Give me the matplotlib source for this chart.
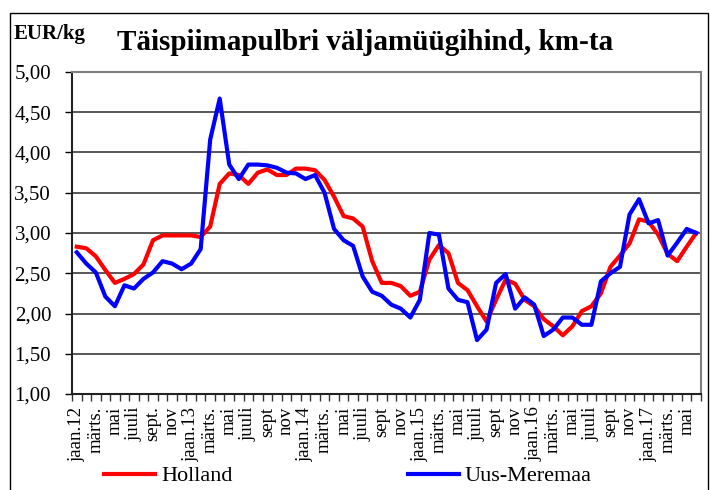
import matplotlib
matplotlib.use("Agg")
import matplotlib.pyplot as plt
from matplotlib.patches import Rectangle
from matplotlib.ticker import FixedLocator, FuncFormatter
from matplotlib.transforms import Bbox, TransformedBbox

# monthly prices, jan 2012 .. jun 2017
holland = [2.83, 2.81, 2.71, 2.54, 2.38, 2.43, 2.49, 2.61, 2.91, 2.97,
           2.97, 2.97, 2.97, 2.95, 3.08, 3.61, 3.74, 3.72, 3.61, 3.75,
           3.79, 3.72, 3.72, 3.80, 3.80, 3.78, 3.66, 3.45, 3.21, 3.18,
           3.08, 2.65, 2.38, 2.38, 2.34, 2.22, 2.27, 2.67, 2.85, 2.75,
           2.38, 2.29, 2.09, 1.90, 2.17, 2.42, 2.37, 2.17, 2.09, 1.93,
           1.84, 1.73, 1.84, 2.03, 2.09, 2.25, 2.58, 2.72, 2.87, 3.17,
           3.14, 2.98, 2.74, 2.65, 2.83, 3.00]
uus_meremaa = [2.76, 2.62, 2.51, 2.21, 2.09, 2.35, 2.31, 2.43, 2.51, 2.65,
               2.62, 2.55, 2.62, 2.80, 4.16, 4.67, 3.85, 3.67, 3.85, 3.85,
               3.84, 3.81, 3.75, 3.74, 3.67, 3.72, 3.50, 3.05, 2.91, 2.84,
               2.46, 2.27, 2.22, 2.11, 2.06, 1.95, 2.17, 3.00, 2.98, 2.31,
               2.17, 2.14, 1.67, 1.80, 2.38, 2.49, 2.06, 2.20, 2.11, 1.72,
               1.80, 1.95, 1.95, 1.86, 1.86, 2.40, 2.50, 2.58, 3.23, 3.42,
               3.12, 3.16, 2.72, 2.88, 3.05, 3.00]

month_labels = ["jaan.12", "märts.", "mai", "juuli", "sept.", "nov",
                "jaan.13", "märts.", "mai", "juuli", "sept", "nov",
                "jaan.14", "märts.", "mai", "juuli", "sept", "nov",
                "jaan.15", "märts.", "mai", "juuli", "sept", "nov",
                "jaan.16", "märts.", "mai", "juuli", "sept", "nov",
                "jaan.17", "märts.", "mai"]

plt.rcParams['font.family'] = ['Liberation Serif', 'DejaVu Serif']

W, H = 710, 490
fig = plt.figure(figsize=(W / 100, H / 100), dpi=100)
ax = fig.add_axes([72 / W, 1 - 394 / H, (701 - 72) / W, (394 - 72) / H])

x = list(range(len(holland)))
ax.plot(x, holland, color="#ff0000", lw=3, label="Holland", zorder=3)
ax.plot(x, uus_meremaa, color="#0000ff", lw=3, label="Uus-Meremaa", zorder=4)

ax.set_xlim(-0.5, len(holland) - 0.5)
ax.set_ylim(1, 5)
ax.set_yticks([1 + 0.5 * i for i in range(9)])
ax.yaxis.set_major_formatter(FuncFormatter(lambda v, p: f"{v:.2f}".replace(".", ",")))
ax.grid(axis="y", color="#4a4a4a", lw=1.3)
ax.set_axisbelow(True)

ax.set_xticks(x[::2])
ax.set_xticklabels(month_labels, rotation=90, fontsize=13.5, va="top")
ax.xaxis.set_minor_locator(FixedLocator([i - 0.5 for i in range(len(holland) + 1)]))
ax.tick_params(axis="x", which="major", length=0, pad=9)
ax.tick_params(axis="x", which="minor", length=5, width=1, color="#333333")
ax.tick_params(axis="y", length=5, width=1, labelsize=15, pad=10)

for s in ["top", "right"]:
    ax.spines[s].set_color("#808080")
    ax.spines[s].set_linewidth(1.5)
for s in ["left", "bottom"]:
    ax.spines[s].set_color("#222222")
    ax.spines[s].set_linewidth(1.5)

fig.text(14 / W, 1 - 34 / H, "EUR/kg", fontsize=15, fontweight="bold", va="center")
fig.text(365 / W, 1 - 43 / H, "Täispiimapulbri väljamüügihind, km-ta",
         fontsize=21, fontweight="bold", ha="center", va="center")

fig.legend(loc="center", bbox_to_anchor=(348 / W, 1 - 476 / H), ncol=2,
           frameon=False, fontsize=16, handlelength=2.3, handletextpad=0.25,
           columnspacing=7.9)

fig.patches.append(Rectangle((10 / W, -0.05), (708 - 10) / W, 1 - 13 / H + 0.05,
                             transform=fig.transFigure, fill=False,
                             edgecolor="black", lw=1))

# month labels are cut off above the legend in the original
clip = TransformedBbox(Bbox([[0, 28 / H], [1, 1]]), fig.transFigure)
for lab in ax.get_xticklabels():
    lab.set_clip_box(clip)
    lab.set_clip_on(True)

fig.savefig("out.png", dpi=100)
